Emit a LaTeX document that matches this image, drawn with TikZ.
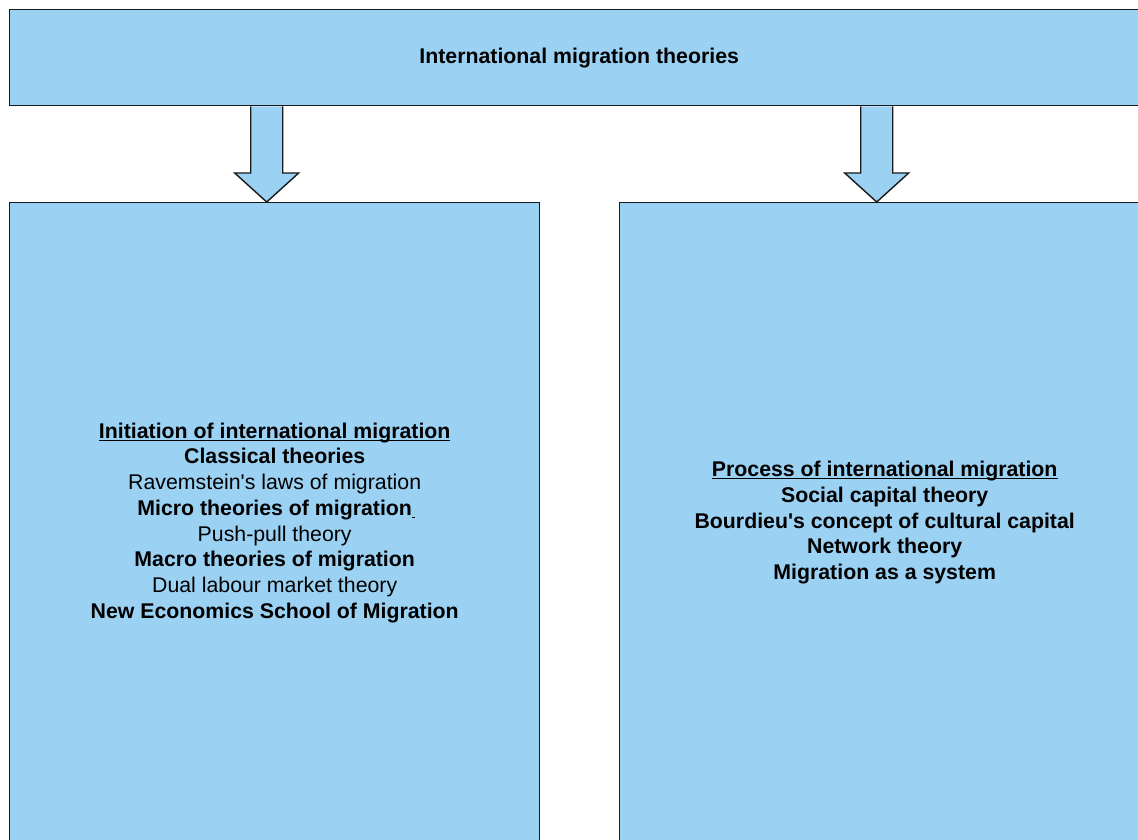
\documentclass[tikz,border=0pt]{standalone}
\usepackage{fontspec}
\setmainfont{Liberation Sans}
\usetikzlibrary{calc,backgrounds}
\definecolor{boxblue}{RGB}{155,209,243}
\definecolor{edge}{RGB}{25,25,25}

% block arrow from a point on one box edge (#1) down to a tip (#2)
\newcommand\blockarrow[2]{%
  \draw[blockarrow] ($(#1)+(-16,0)$) -- ($(#2)+(-16,-29)$) -- ($(#2)+(-32,-29)$)
    -- (#2) -- ($(#2)+(32,-29)$) -- ($(#2)+(16,-29)$) -- ($(#1)+(16,0)$);}

% underline set close to the baseline
\newcommand\ulin[1]{\setbox0\hbox{#1}\rlap{\rule[-2.6pt]{\wd0}{1.3pt}}\box0}

\begin{document}
\begin{tikzpicture}[x=1pt,y=-1pt,
  panel/.style={draw=edge,line width=1.4pt,fill=boxblue,inner sep=0pt,
    anchor=north west,align=center,font=\fontsize{21.3}{25.7}\selectfont},
  blockarrow/.style={draw=edge,line width=1.4pt,fill=boxblue,line join=miter}]
\useasboundingbox (0,0) rectangle (1138,840);

% heading bar
\node[panel,minimum width=1139pt,minimum height=96pt] (title) at (9,9)
  {\textbf{International migration theories}};

% left panel: initiation
\node[panel,minimum width=530pt,minimum height=640pt] (lbox) at (9,202)
  {\textbf{\ulin{Initiation of international migration}}\\
   \textbf{Classical theories}\\
   Ravemstein\textquotesingle s laws of migration\\
   \textbf{Micro theories of migration}\rlap{\kern0.5pt\rule[-2.6pt]{2.5pt}{1.2pt}}\\
   Push-pull theory\\
   \textbf{Macro theories of migration}\\
   Dual labour market theory\\
   \textbf{New Economics School of Migration}};

% right panel: process
\node[panel,minimum width=530pt,minimum height=640pt] (rbox) at (619,202)
  {\textbf{\ulin{Process of international migration}}\\
   \textbf{Social capital theory}\\
   \textbf{Bourdieu\textquotesingle s concept of cultural capital}\\
   \textbf{Network theory}\\
   \textbf{Migration as a system}};

% arrow anchor points
\coordinate (ltip) at ($(lbox.north)+(-8,0)$);
\coordinate (lbase) at (title.south -| ltip);
\coordinate (rtip) at ($(rbox.north)+(-8,0)$);
\coordinate (rbase) at (title.south -| rtip);

\begin{scope}[on background layer]
  \blockarrow{lbase}{ltip}
  \blockarrow{rbase}{rtip}
\end{scope}
\end{tikzpicture}
\end{document}
